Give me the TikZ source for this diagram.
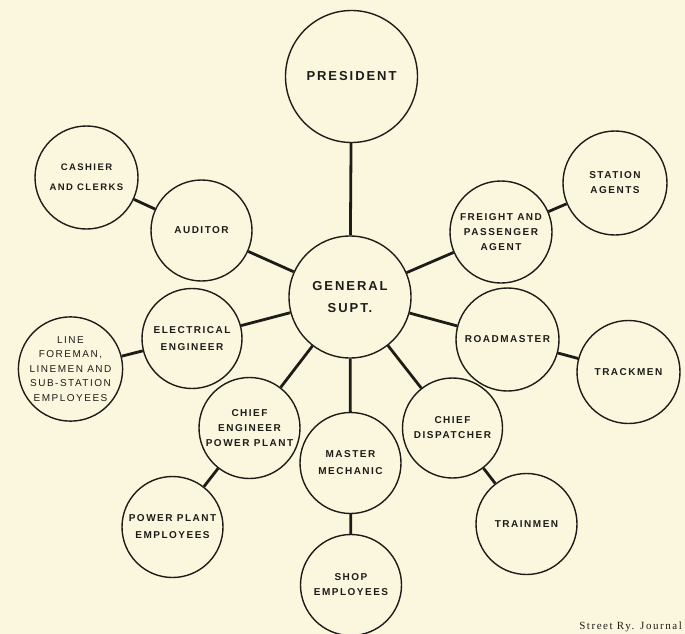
\documentclass[tikz,border=0pt]{standalone}
\usepackage{fontspec}
\newfontfamily\lab[LetterSpace=15]{Liberation Sans}
\newfontfamily\credit[LetterSpace=14]{Liberation Serif}
\definecolor{paper}{RGB}{250,247,222}
\definecolor{ink}{RGB}{30,28,25}
\begin{document}
\begin{tikzpicture}[x=1pt,y=-1pt,
  unit/.style={circle, draw=ink, line width=1.4pt, fill=paper, inner sep=0pt,
    align=center, text=ink, font=\lab\bfseries\fontsize{10}{15}\selectfont},
  big/.style={font=\lab\bfseries\fontsize{13}{22}\selectfont},
  wide/.style={font=\lab\bfseries\fontsize{10}{17}\selectfont},
  link/.style={draw=ink, line width=2.8pt}]
\fill[paper] (0,0) rectangle (685,634);
\clip (0,0) rectangle (685,634);
\useasboundingbox (0,0) rectangle (685,634);

\node[unit, big, minimum size=132pt] (pres) at (351.5,76.5) {PRESIDENT};
\node[unit, big, minimum size=122pt] (gen) at (350,297) {GENERAL\\SUPT.};
\node[unit, font=\lab\bfseries\fontsize{9.5}{20}\selectfont, minimum size=103pt] (cash) at (86.5,177.5) {CASHIER\\AND CLERKS};
\node[unit, minimum size=101pt] (aud) at (201.5,230.5) {AUDITOR};
\node[unit, minimum size=102pt] (frt) at (501,232) {FREIGHT AND\\PASSENGER\\AGENT};
\node[unit, minimum size=104pt] (stat) at (615,183) {STATION\\AGENTS};
\node[unit, minimum size=103pt] (road) at (507.5,339.5) {ROADMASTER};
\node[unit, minimum size=103pt] (track) at (628.5,372) {TRACKMEN};
\node[unit, minimum size=100pt] (disp) at (452.5,428) {CHIEF\\DISPATCHER};
\node[unit, minimum size=101pt] (train) at (526.5,524) {TRAINMEN};
\node[unit, wide, minimum size=101pt] (mech) at (350.5,463) {MASTER\\MECHANIC};
\node[unit, minimum size=101pt] (shop) at (351,585) {SHOP\\EMPLOYEES};
\node[unit, wide, minimum size=100pt] (elec) at (192,338.5) {ELECTRICAL\\ENGINEER};
\node[unit, font=\lab\fontsize{10}{14.5}\selectfont, minimum size=102pt] (linef) at (70.5,369) {LINE\\FOREMAN,\\LINEMEN AND\\SUB-STATION\\EMPLOYEES};
\node[unit, minimum size=101pt] (ceng) at (249.5,428) {CHIEF\\ENGINEER\\POWER PLANT};
\node[unit, wide, minimum size=101pt] (ppe) at (172.5,527) {POWER PLANT\\EMPLOYEES};

\draw[link] (gen) -- (pres);
\draw[link] (gen) -- (aud);
\draw[link] (aud) -- (cash);
\draw[link] (gen) -- (frt);
\draw[link] (frt) -- (stat);
\draw[link] (gen) -- (road);
\draw[link] (road) -- (track);
\draw[link] (gen) -- (disp);
\draw[link] (disp) -- (train);
\draw[link] (gen) -- (mech);
\draw[link] (mech) -- (shop);
\draw[link] (gen) -- (elec);
\draw[link] (elec) -- (linef);
\draw[link] (gen) -- (ceng);
\draw[link] (ceng) -- (ppe);

\node[font=\credit\fontsize{11}{13}\selectfont, text=ink, anchor=base east, inner sep=0pt] (src) at (682,629.5) {Street Ry. Journal};
\end{tikzpicture}
\end{document}
